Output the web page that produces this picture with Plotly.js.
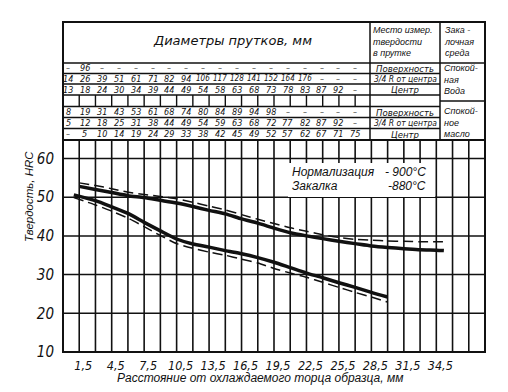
<!DOCTYPE html>
<html><head><meta charset="utf-8">
<script src="https://cdn.plot.ly/plotly-3.0.1.min.js"></script>
<style>html,body{margin:0;padding:0;background:#fff;}#chart{width:508px;height:392px;}</style>
</head><body><div id="chart"></div>
<script>
// ---- data ----
const distUpper = [1.5,3,4.5,6,7.5,9,10.5,12,13.5,15,16.5,18,19.5,21,22.5,24,25.5,27,28.5,30,31.5,33,34.5,35.2];
const upperSolid = [52.8,52.0,51.2,50.4,49.9,49.2,48.5,47.6,46.6,45.7,44.4,43.3,42.0,40.8,40.0,39.3,38.6,38.0,37.4,37.0,36.7,36.4,36.3,36.2];
const upperDashed = [53.7,53.0,52.2,51.3,50.7,50.2,49.6,48.7,47.7,46.7,45.5,44.3,43.2,42.1,41.2,40.3,39.6,39.1,38.9,38.7,38.6,38.5,38.5,38.5];
const distLower = [1.0,3,4.5,6,7.5,9,10.5,12,13.5,15,16.5,18,19.5,21,22.5,24,25.5,27,28.5,30];
const lowerSolid = [50.6,49.1,47.5,45.8,43.5,41.3,39.2,37.9,37.1,36.2,35.4,34.4,33.2,31.8,30.4,29.2,27.9,26.7,25.4,24.2];
const lowerDashed = [49.9,48.0,46.4,44.6,42.4,40.1,38.0,36.8,35.8,35.0,34.0,33.0,31.6,30.4,29.3,28.0,26.7,25.4,24.2,22.9];

const xTickVals = [1.5,4.5,7.5,10.5,13.5,16.5,19.5,22.5,25.5,28.5,31.5,34.5];
const xTickText = ['1,5','4,5','7,5','10,5','13,5','16,5','19,5','22,5','25,5','28,5','31,5','34,5'];
const yTickVals = [10,20,30,40,50,60];
const yTickText = ['10','20','30','40','50','60'];

const waterSurface = ['–','96','–','–','–','–','–','–','–','–','–','–','–','–','–','–','–','–'];
const waterR34 = ['14','26','39','51','61','71','82','94','106','117','128','141','152','164','176','–','–','–'];
const waterCenter = ['13','18','24','30','34','39','44','49','54','58','63','68','73','78','83','87','92','–'];
const oilSurface = ['8','19','31','43','53','61','68','74','80','84','89','94','98','–','–','–','–','–'];
const oilR34 = ['5','12','18','25','31','38','44','49','54','59','63','68','72','77','82','87','92','–'];
const oilCenter = ['–','5','10','14','19','24','29','33','38','42','45','49','52','57','62','67','71','75'];

const placeLabels = ['Поверхность','3/4 R от центра','Центр','Поверхность','3/4 R от центра','Центр'];
const placeHeader = ['Место измер.','твердости','в прутке'];
const mediaHeader = ['Зака -','лочная','среда'];
const mediaWater = ['Спокой-','ная','Вода'];
const mediaOil = ['Спокой-','ное','масло'];

// ---- layout geometry ----
const L=63, R=485, T=22, B=352, PW=R-L, PH=B-T;
const px = v => (v-L)/PW;        // pixel x -> paper
const py = v => (B-v)/PH;        // pixel y -> paper
const yTop = 10 + PH/3.87;
const it = s => '<i>' + s + '</i>';

const F = 'Liberation Sans, DejaVu Sans, sans-serif';
const FN = 'Liberation Sans Narrow, DejaVu Sans Condensed, Liberation Sans, sans-serif';
const K = '#111';

const shapes = [];
const line = (x0,y0,x1,y1,w,xref,yref) => shapes.push({type:'line',xref:xref||'paper',yref:yref||'paper',x0,y0,x1,y1,line:{color:K,width:w||1.5},layer:'below'});

// chart grid: vertical lines every 1.5 mm
for (let d=1.5; d<39; d+=1.5) line(d, 0, d, py(140), 1.6, 'x', 'paper');
// horizontal grid
yTickVals.slice(1).forEach(v => line(0, v, 1, v, 1.5, 'paper', 'y'));
// table row lines
const rowLines = [63, 73.5, 84, 95, 106.5, 117.5, 128.5];
line(0, py(63), 1, py(63), 1.5);
rowLines.slice(1).forEach(r => line(0, py(r), px(440), py(r), 1.3));
line(px(440), py(101), 1, py(101), 1.3);
line(0, py(140), 1, py(140), 1.8);
// column dividers in table
line(px(370), py(T), px(370), py(140), 1.5);
line(px(440), py(T), px(440), py(140), 1.5);
// spacer row ticks
for (let d=1.5; d<=27.01; d+=1.5) line(d, py(95), d, py(106.5), 1.4, 'x', 'paper');
// frame
shapes.push({type:'rect',xref:'paper',yref:'paper',x0:0,y0:0,x1:1,y1:1,line:{color:K,width:2},layer:'below'});
// white box behind heat-treatment note
shapes.push({type:'rect',xref:'paper',yref:'paper',x0:px(288),x1:px(435),y0:py(197),y1:py(163),fillcolor:'#fff',line:{width:0},layer:'below'});

const ann = [];
const txt = (text, x, y, size, font, o) => ann.push(Object.assign({text: it(text), xref:'paper', yref:'paper', x:px(x), y:py(y), showarrow:false,
  font:{family:font||F, size:size||10, color:K}, xanchor:'center', yanchor:'middle', borderpad:0}, o||{}));
const block = (lines, x, yc, size) => txt(lines.join('<br>'), x, yc, size, F, {xanchor:'left', align:'left'});

// header
txt('Диаметры прутков, мм', 232, 40.5, 13, 'DejaVu Sans, sans-serif');
block(placeHeader, 372, 41, 9);
block(mediaHeader, 443, 41, 9);
// numbers
const rowsY = [68.3, 78.8, 89.5, 112, 123, 134.3];
[waterSurface, waterR34, waterCenter, oilSurface, oilR34, oilCenter].forEach((row, r) => {
  row.forEach((v, j) => txt(v, 68 + j*16.9, rowsY[r], v.length > 2 ? 8 : 9, FN));
});
placeLabels.forEach((s, r) => txt(s, 405, rowsY[r], s.length > 12 ? 8.5 : 9.5, FN));
block(mediaWater, 443, 79, 9);
block(mediaOil, 443, 123, 9);

// note
txt('Нормализация', 291, 172, 12, F, {xanchor:'left'});
txt('- 900°C', 427, 172, 12, F, {xanchor:'right'});
txt('Закалка', 291, 186, 12, F, {xanchor:'left'});
txt('-880°C', 427, 186, 12, F, {xanchor:'right'});

// axis titles
txt('Твердость, HRC', 29, 197, 11.5, F, {textangle:-90});
txt('Расстояние от охлаждаемого торца образца, мм', 260, 378, 12, F);

const traces = [
  {x:distUpper, y:upperDashed, mode:'lines', line:{color:K, width:1.5, dash:'10px,5px'}},
  {x:distUpper, y:upperSolid, mode:'lines', line:{color:K, width:3.5}},
  {x:distLower, y:lowerDashed, mode:'lines', line:{color:K, width:1.5, dash:'10px,5px'}},
  {x:distLower, y:lowerSolid, mode:'lines', line:{color:K, width:3.5}}
];
traces.forEach(t => { t.line.shape='spline'; t.line.smoothing=0.6; t.hoverinfo='skip'; });

const layout = {
  width:508, height:392, margin:{l:L, r:508-R, t:T, b:392-B},
  paper_bgcolor:'#fff', plot_bgcolor:'#fff', showlegend:false,
  xaxis:{range:[0,39], tickvals:xTickVals, ticktext:xTickText.map(it), showgrid:false, zeroline:false, showline:false, ticks:'',
    tickfont:{family:FN, size:12.5, color:K}, ticklabelstandoff:4, ticklabelshift:4},
  yaxis:{range:[10,yTop], tickvals:yTickVals, ticktext:yTickText.map(it), showgrid:false, zeroline:false, showline:false, ticks:'',
    tickfont:{family:FN, size:15, color:K}, ticklabelstandoff:8},
  shapes, annotations:ann
};
Plotly.newPlot('chart', traces, layout, {staticPlot:true, displayModeBar:false});
</script></body></html>
